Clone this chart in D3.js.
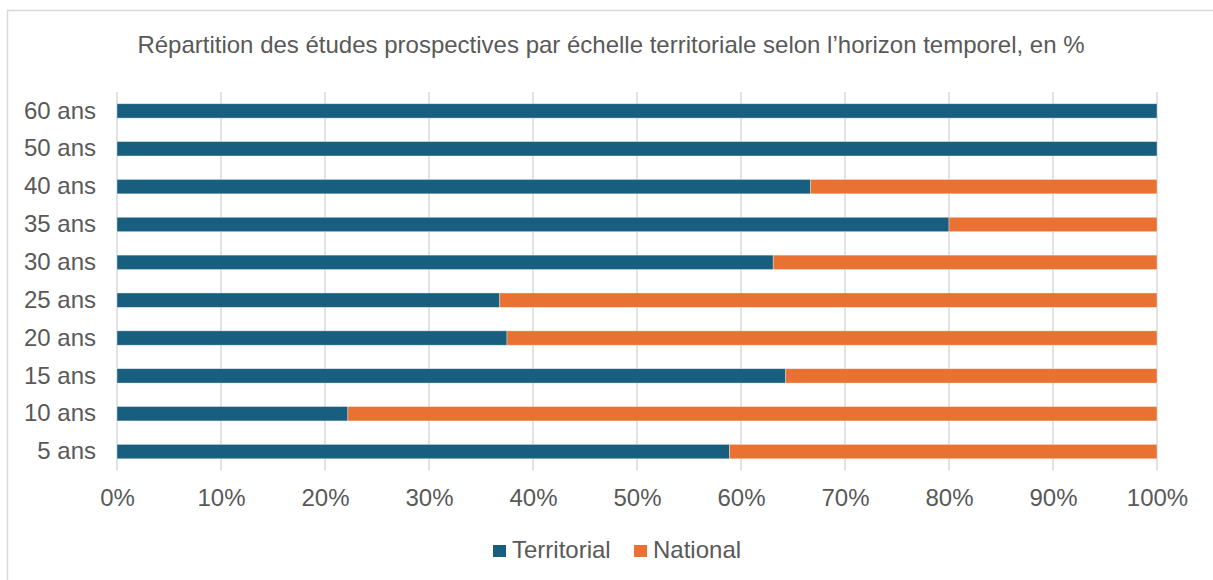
<!DOCTYPE html>
<html>
<head>
<meta charset="utf-8">
<script src="https://cdn.jsdelivr.net/npm/d3@7"></script>
<style>
  body { margin: 0; background: #fff; }
  text { font-family: "Liberation Sans", Arial, sans-serif; fill: #595959; }
</style>
</head>
<body>
<svg id="chart" width="1213" height="580"></svg>
<script>
// categories, bottom to top as read on the picture
var horizons = ["5 ans", "10 ans", "15 ans", "20 ans", "25 ans", "30 ans", "35 ans", "40 ans", "50 ans", "60 ans"];
// share of territorial studies, %
var territorial = [58.9, 22.2, 64.3, 37.5, 36.8, 63.1, 80, 66.7, 100, 100];
// share of national studies, %
var national = [41.1, 77.8, 35.7, 62.5, 63.2, 36.9, 20, 33.3, 0, 0];
var ticks = [0, 10, 20, 30, 40, 50, 60, 70, 80, 90, 100];
var seriesNames = ["Territorial", "National"];
var colors = ["#175E7F", "#E97132"];

var svg = d3.select("#chart");

// outer frame
svg.append("rect")
    .attr("x", 7.5).attr("y", 10.5)
    .attr("width", 1215).attr("height", 600)
    .attr("fill", "none").attr("stroke", "#d9d9d9").attr("stroke-width", 1.5);

svg.append("text")
    .attr("x", 611).attr("y", 53)
    .attr("text-anchor", "middle")
    .style("font-size", "24px")
    .text("Répartition des études prospectives par échelle territoriale selon l’horizon temporel, en %");

var x = d3.scaleLinear().domain([0, 100]).range([117, 1157]);
var y = d3.scaleBand()
    .domain(horizons.slice().reverse())
    .range([92, 470.5])
    .paddingInner(0.62).paddingOuter(0.31);

// grid
svg.append("g").selectAll("line")
    .data(ticks).join("line")
    .attr("x1", d => x(d)).attr("x2", d => x(d))
    .attr("y1", 92).attr("y2", 470)
    .attr("stroke", "#d9d9d9").attr("stroke-width", 1.5);

// stacked bars
var rows = horizons.map(function(h, i) {
    return { horizon: h, Territorial: territorial[i], National: national[i] };
});
var stack = d3.stack().keys(seriesNames)(rows);

svg.append("g").selectAll("g")
    .data(stack).join("g")
    .attr("fill", (d, i) => colors[i])
    .selectAll("rect")
    .data(d => d.filter(s => s[1] - s[0] > 0)).join("rect")
    .attr("x", d => x(d[0]))
    .attr("width", d => x(d[1]) - x(d[0]))
    .attr("y", d => y(d.data.horizon))
    .attr("height", y.bandwidth())
    .attr("stroke", "#fff").attr("stroke-opacity", 0.45).attr("stroke-width", 0.8);

// y axis labels
var yAxis = svg.append("g")
    .attr("transform", "translate(117,0)")
    .call(d3.axisLeft(y).tickSize(0).tickPadding(21));
yAxis.select(".domain").remove();
yAxis.selectAll("text")
    .style("font-size", "24px")
    .attr("fill", "#595959")
    .style("font-family", "'Liberation Sans', Arial, sans-serif");

// x axis labels
var xAxis = svg.append("g")
    .attr("transform", "translate(0,470)")
    .call(d3.axisBottom(x).tickValues(ticks).tickFormat(d => d + "%").tickSize(0).tickPadding(19));
xAxis.select(".domain").remove();
xAxis.selectAll("text")
    .style("font-size", "24px")
    .attr("fill", "#595959")
    .style("font-family", "'Liberation Sans', Arial, sans-serif");

// legend
var legendX = [493, 634];
var legend = svg.append("g").selectAll("g")
    .data(seriesNames).join("g")
    .attr("transform", (d, i) => "translate(" + legendX[i] + ",545)");
legend.append("rect")
    .attr("width", 13).attr("height", 12)
    .attr("fill", (d, i) => colors[i]);
legend.append("text")
    .attr("x", 19).attr("y", 13)
    .style("font-size", "24px")
    .text(d => d);
</script>
</body>
</html>
